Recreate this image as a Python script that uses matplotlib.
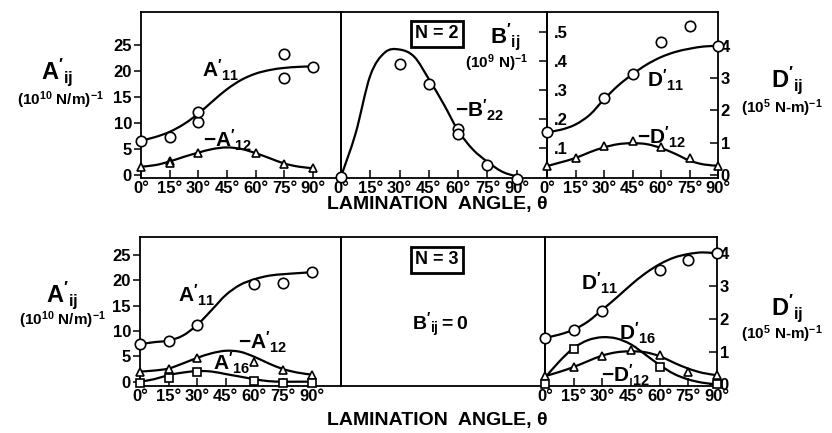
import matplotlib
matplotlib.use('Agg')
import matplotlib.pyplot as plt
from matplotlib.path import Path
from matplotlib.patches import PathPatch

plt.rcParams['font.family'] = ['Liberation Sans', 'DejaVu Sans']
plt.rcParams['font.weight'] = 'bold'
plt.rcParams['mathtext.fontset'] = 'custom'
plt.rcParams['mathtext.rm'] = 'Liberation Sans:bold'
plt.rcParams['mathtext.bf'] = 'Liberation Sans:bold'
plt.rcParams['mathtext.it'] = 'Liberation Sans:bold:italic'
plt.rcParams['mathtext.sf'] = 'Liberation Sans:bold'

# ---------------- data ----------------
angle_ticks = [0, 15, 30, 45, 60, 75, 90]
angle_labels = ['0°', '15°', '30°', '45°', '60°', '75°', '90°']
curve_angles = [0, 7.5, 15, 22.5, 30, 37.5, 45, 52.5, 60, 67.5, 75, 82.5, 90]

# N = 2, A'ij
a11_n2_x = [0, 15, 30, 30, 75, 75, 90]
a11_n2_y = [6.6, 7.4, 10.1, 12.2, 23.3, 18.7, 20.8]
a11_n2_curve = [6.6, 7.3, 8.3, 9.8, 11.8, 14.2, 16.5, 18.3, 19.5, 20.2, 20.6, 20.8, 20.9]
a12_n2_x = [0, 15, 15, 30, 60, 75, 90]
a12_n2_y = [1.6, 2.6, 2.3, 4.2, 4.2, 2.2, 1.3]
a12_n2_curve = [1.6, 1.9, 2.6, 3.5, 4.3, 5.0, 5.3, 5.0, 4.2, 3.2, 2.2, 1.6, 1.3]

# N = 2, -B'22
b22_n2_x = [0, 30, 45, 60, 60, 75, 90]
b22_n2_y = [0.0, 0.389, 0.32, 0.163, 0.148, 0.04, -0.01]
b22_n2_curve = [0.0, 0.15, 0.35, 0.43, 0.44, 0.415, 0.3375, 0.252, 0.159, 0.094, 0.051, 0.017, 0.0]
b_ticks = [0.1, 0.2, 0.3, 0.4, 0.5]
b_labels = ['.1', '.2', '.3', '.4', '.5']

# N = 2, D'ij
d11_n2_x = [0, 30, 45, 60, 75, 90]
d11_n2_y = [1.32, 2.38, 3.12, 4.11, 4.62, 4.0]
d11_n2_curve = [1.32, 1.40, 1.56, 1.86, 2.34, 2.77, 3.12, 3.42, 3.65, 3.81, 3.91, 3.98, 4.0]
d12_n2_x = [0, 15, 30, 45, 60, 75, 90]
d12_n2_y = [0.27, 0.52, 0.88, 1.05, 0.87, 0.52, 0.27]
d12_n2_curve = [0.27, 0.39, 0.52, 0.70, 0.85, 0.95, 0.98, 0.95, 0.83, 0.65, 0.44, 0.32, 0.28]

# N = 3, A'ij
a11_n3_x = [0, 15, 30, 60, 75, 90]
a11_n3_y = [7.4, 8.1, 11.2, 19.2, 19.4, 21.6]
a11_n3_curve = [7.4, 7.8, 8.1, 9.1, 11.2, 14.1, 17.1, 19.1, 20.2, 20.9, 21.2, 21.4, 21.6]
a12_n3_x = [0, 15, 30, 60, 75, 90]
a12_n3_y = [2.0, 2.5, 4.6, 3.9, 2.3, 1.4]
a12_n3_curve = [2.0, 2.2, 2.6, 3.6, 4.7, 5.6, 6.1, 5.9, 4.9, 3.6, 2.5, 1.8, 1.4]
a16_n3_x = [0, 15, 30, 60, 75, 90]
a16_n3_y = [-0.3, 0.8, 2.0, 0.2, -0.3, -0.3]
a16_n3_curve = [0.0, 0.5, 1.3, 1.8, 2.1, 2.0, 1.5, 1.0, 0.5, 0.1, 0.0, 0.0, 0.0]

# N = 3, D'ij
d11_n3_x = [0, 15, 30, 60, 75, 90]
d11_n3_y = [1.42, 1.67, 2.25, 3.49, 3.8, 4.0]
d11_n3_curve = [1.42, 1.52, 1.67, 1.92, 2.28, 2.65, 3.04, 3.39, 3.67, 3.87, 3.98, 4.03, 4.0]
d16_n3_x = [0, 15, 60, 90]
d16_n3_y = [0.0, 1.08, 0.54, 0.0]
d16_n3_curve = [0.2, 0.7, 1.11, 1.35, 1.44, 1.40, 1.22, 0.91, 0.59, 0.32, 0.15, 0.05, 0.0]
d12_n3_x = [0, 15, 30, 45, 60, 75, 90]
d12_n3_y = [0.25, 0.53, 0.86, 1.06, 0.89, 0.37, 0.28]
d12_n3_curve = [0.25, 0.38, 0.53, 0.71, 0.88, 0.98, 1.01, 0.98, 0.86, 0.66, 0.48, 0.35, 0.28]

a_ticks = [0, 5, 10, 15, 20, 25]
d_ticks = [0, 1, 2, 3, 4]

# ---------------- figure ----------------
W, H = 832, 433
fig = plt.figure(figsize=(W / 100, H / 100), dpi=100)

LW_SPINE = 1.3
LW_CURVE = 1.6
TICK_FS = 12


def px_axes(x0, x1, ytop, ybot):
    ax = fig.add_axes([x0 / W, 1 - ybot / H, (x1 - x0) / W, (ybot - ytop) / H])
    ax.set_facecolor('none')
    for s in ax.spines.values():
        s.set_linewidth(LW_SPINE)
    return ax


def setup_x(ax, xmax):
    ax.set_xlim(0, xmax)
    ax.set_xticks(angle_ticks)
    ax.set_xticklabels(angle_labels, fontsize=TICK_FS, fontweight='bold')
    ax.tick_params(axis='x', direction='in', length=6, width=1.1, pad=2.5)


def curve(ax, y):
    # smooth curve through the read points (Catmull-Rom as cubic Bezier segments)
    x = curve_angles
    n = len(x)
    verts = [(x[0], y[0])]
    codes = [Path.MOVETO]
    for i in range(n - 1):
        i0 = max(i - 1, 0)
        i3 = min(i + 2, n - 1)
        c1 = (x[i] + (x[i + 1] - x[i0]) / 6.0, y[i] + (y[i + 1] - y[i0]) / 6.0)
        c2 = (x[i + 1] - (x[i3] - x[i]) / 6.0, y[i + 1] - (y[i3] - y[i]) / 6.0)
        verts += [c1, c2, (x[i + 1], y[i + 1])]
        codes += [Path.CURVE4] * 3
    patch = PathPatch(Path(verts, codes), fc='none', ec='black', lw=LW_CURVE,
                      zorder=2, clip_on=False)
    ax.add_patch(patch)


def marks(ax, x, y, m, ms):
    ax.plot(x, y, linestyle='none', marker=m, ms=ms, mfc='white', mec='black',
            mew=1.2, zorder=3, clip_on=False)


def ftext(x, y, s, size, **kw):
    fig.text(x / W, 1 - y / H, s, fontsize=size, fontweight='bold',
             ha='center', va='center', **kw)


def setup_a(ax, ylim):
    ax.set_ylim(*ylim)
    ax.set_yticks(a_ticks)
    ax.set_yticklabels([str(t) for t in a_ticks], fontsize=TICK_FS, fontweight='bold')
    ax.tick_params(axis='y', direction='out', length=5, width=1.1, pad=1.5)


def setup_d(ax, ylim):
    ax.set_ylim(*ylim)
    ax.yaxis.tick_right()
    ax.set_yticks(d_ticks)
    ax.set_yticklabels([str(t) for t in d_ticks], fontsize=TICK_FS, fontweight='bold')
    ax.tick_params(axis='y', direction='in', length=6, width=1.1, pad=2)


# ---- top row (N = 2) ----
T_TOP, T_BOT = 12, 178
axA2 = px_axes(141, 341, T_TOP, T_BOT)
setup_x(axA2, 104.6)
setup_a(axA2, (-0.58, 31.35))
curve(axA2, a11_n2_curve)
curve(axA2, a12_n2_curve)
marks(axA2, a11_n2_x, a11_n2_y, 'o', 7.5)
marks(axA2, a12_n2_x, a12_n2_y, '^', 6)

axB2 = px_axes(341, 547, T_TOP, T_BOT)
setup_x(axB2, 105.5)
axB2.set_ylim(-0.005, 0.57)
axB2.yaxis.tick_right()
axB2.set_yticks(b_ticks)
axB2.set_yticklabels(b_labels, fontsize=TICK_FS, fontweight='bold')
axB2.tick_params(axis='y', direction='in', length=6, width=1.1, pad=5)
curve(axB2, b22_n2_curve)
marks(axB2, b22_n2_x, b22_n2_y, 'o', 7.5)

axD2 = px_axes(547, 718, T_TOP, T_BOT)
setup_x(axD2, 90)
setup_d(axD2, (-0.1, 5.05))
curve(axD2, d11_n2_curve)
curve(axD2, d12_n2_curve)
marks(axD2, d11_n2_x, d11_n2_y, 'o', 7.5)
marks(axD2, d12_n2_x, d12_n2_y, '^', 6)

# ---- bottom row (N = 3) ----
B_TOP, B_BOT = 237, 386
axA3 = px_axes(140, 341, B_TOP, B_BOT)
setup_x(axA3, 105.4)
setup_a(axA3, (-0.85, 28.54))
curve(axA3, a11_n3_curve)
curve(axA3, a12_n3_curve)
curve(axA3, a16_n3_curve)
marks(axA3, a11_n3_x, a11_n3_y, 'o', 7.5)
marks(axA3, a12_n3_x, a12_n3_y, '^', 6)
marks(axA3, a16_n3_x, a16_n3_y, 's', 6)

axB3 = px_axes(341, 545, B_TOP, B_BOT)
axB3.set_xlim(0, 105)
axB3.set_ylim(0, 1)
axB3.set_xticks([])
axB3.set_yticks([])

axD3 = px_axes(545, 717, B_TOP, B_BOT)
setup_x(axD3, 90)
setup_d(axD3, (-0.05, 4.5))
curve(axD3, d11_n3_curve)
curve(axD3, d16_n3_curve)
curve(axD3, d12_n3_curve)
marks(axD3, d11_n3_x, d11_n3_y, 'o', 7.5)
marks(axD3, d12_n3_x, d12_n3_y, '^', 6)
marks(axD3, d16_n3_x, d16_n3_y, 's', 6)

# ---------------- text ----------------
ftext(57, 72, r"$\mathbf{A'_{ij}}$", 17)
ftext(60, 100, r"$\mathbf{(10^{10}\ N/m)^{-1}}$", 11)
ftext(62, 295, r"$\mathbf{A'_{ij}}$", 17)
ftext(62, 320, r"$\mathbf{(10^{10}\ N/m)^{-1}}$", 11)

ftext(787, 80, r"$\mathbf{D'_{ij}}$", 17)
ftext(782, 108, r"$\mathbf{(10^{5}\ N\text{-}m)^{-1}}$", 11)
ftext(787, 308, r"$\mathbf{D'_{ij}}$", 17)
ftext(782, 334, r"$\mathbf{(10^{5}\ N\text{-}m)^{-1}}$", 11)

box = dict(boxstyle='square,pad=0.25', fc='white', ec='black', lw=2.0)
ftext(437, 34, 'N = 2', 13, bbox=box)
ftext(437, 260, 'N = 3', 13, bbox=box)
ftext(505, 37, r"$\mathbf{B'_{ij}}$", 16)
ftext(497, 63, r"$\mathbf{(10^{9}\ N)^{-1}}$", 11)
ftext(480, 110, r"$\mathbf{-B'_{22}}$", 15)
ftext(440, 325, r"$\mathbf{B'_{ij}=0}$", 14)

ftext(221, 70, r"$\mathbf{A'_{11}}$", 15)
ftext(228, 140, r"$\mathbf{-A'_{12}}$", 15)
ftext(666, 80, r"$\mathbf{D'_{11}}$", 15)
ftext(662, 137, r"$\mathbf{-D'_{12}}$", 15)

ftext(197, 295, r"$\mathbf{A'_{11}}$", 15)
ftext(263, 342, r"$\mathbf{-A'_{12}}$", 15)
ftext(232, 363, r"$\mathbf{A'_{16}}$", 15)
ftext(600, 283, r"$\mathbf{D'_{11}}$", 15)
ftext(638, 333, r"$\mathbf{D'_{16}}$", 15)
ftext(626, 375, r"$\mathbf{-D'_{12}}$", 15)

ftext(437, 205, 'LAMINATION  ANGLE, θ', 14)
ftext(437, 421, 'LAMINATION  ANGLE, θ', 14)

fig.savefig('out.png', dpi=100)
